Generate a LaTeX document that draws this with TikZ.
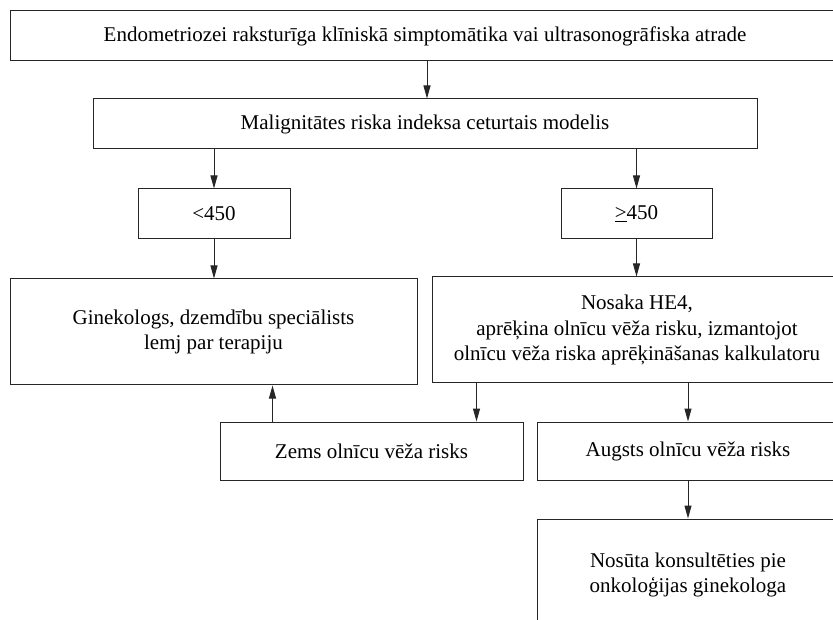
\documentclass[tikz,border=0pt]{standalone}
\usepackage{fontspec}
\setmainfont{Liberation Serif}
\usetikzlibrary{arrows.meta,positioning}

\begin{document}
\begin{tikzpicture}[x=1pt, y=-1pt,
		box/.style={draw=black!85, line width=1pt, align=center, inner sep=0pt, font=\fontsize{21}{25.5}\selectfont},
		arr/.style={draw=black!85, line width=1pt, -{Triangle[length=13pt, width=7pt]}}]
		\clip (0,0) rectangle (833,620);
		\fill[white] (0,0) rectangle (833,620);

		\node(simpt)[box, minimum width=830pt, minimum height=50pt] at (425,36){Endometriozei raksturīga klīniskā simptomātika vai ultrasonogrāfiska atrade};
		\node(rmi)[box, minimum width=664pt, minimum height=50pt] at (425,124){Malignitātes riska indeksa ceturtais modelis};

		\node(zem)[box, minimum width=152pt, minimum height=50pt] at (214,214){<450};
		\node(virs)[box, minimum width=151pt, minimum height=50pt] at (636.5,214){\underline{>}450};

		\node(gin)[box, minimum width=407pt, minimum height=106pt] at (213.5,332){Ginekologs, dzemdību speciālists\\lemj par terapiju};
		\node(he)[box, minimum width=410pt, minimum height=106pt] at (637,330){Nosaka HE4,\\aprēķina olnīcu vēža risku, izmantojot\\olnīcu vēža riska aprēķināšanas kalkulatoru};

		\node(zems)[box, minimum width=303pt, minimum height=58pt] at (371.5,451){Zems olnīcu vēža risks};
		\node(augsts)[box, minimum width=302pt, minimum height=58pt] at (688,451){Augsts olnīcu vēža risks};

		\node(onko)[box, minimum width=302pt, minimum height=112pt] at (688,575){Nosūta konsultēties pie\\onkoloģijas ginekologa};

		\coordinate(he-a) at ([xshift=45pt]he.south west);
		\coordinate(zems-a) at ([xshift=53pt]zems.north west);

		\draw[arr] (simpt.south -| 427,0) -- (rmi.north -| 427,0);
		\draw[arr] (rmi.south -| zem.north) -- (zem.north);
		\draw[arr] (rmi.south -| virs.north) -- (virs.north);
		\draw[arr] (zem.south) -- (zem.south |- gin.north);
		\draw[arr] (virs.south) -- (virs.south |- he.north);
		\draw[arr] (he-a) -- (he-a |- zems.north);
		\draw[arr] (zems-a) -- (zems-a |- gin.south);
		\draw[arr] (he.south -| augsts.north) -- (augsts.north);
		\draw[arr] (augsts.south) -- (onko.north);
	\end{tikzpicture}
\end{document}
